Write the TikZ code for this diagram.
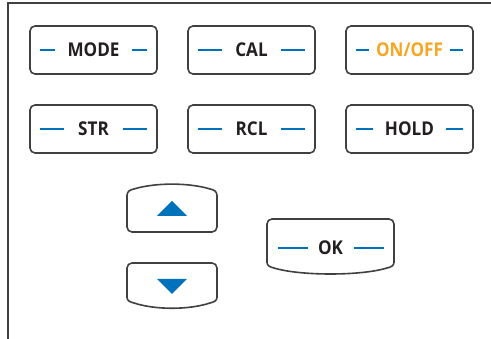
\documentclass[tikz,border=0pt]{standalone}
\usepackage{fontspec}
\setmainfont{Open Sans}
\newfontfamily\keyfont{Open Sans}[FakeStretch=0.9]
\definecolor{edge}{RGB}{64,64,64}
\definecolor{keyblue}{RGB}{0,114,188}
\definecolor{keyorange}{RGB}{246,166,35}
\definecolor{keytext}{RGB}{35,31,32}
\tikzset{
  btn/.style={draw=edge, line width=1.6pt, rounded corners=5pt, minimum width=127pt, minimum height=48pt, inner sep=0pt},
  lbl/.style={font=\keyfont\bfseries\fontsize{19}{21}\selectfont, inner sep=0pt},
  dsh/.style={draw=keyblue, line width=2pt},
  shp/.style={draw=edge, line width=1.6pt, rounded corners=5pt},
  bulge/.style={draw=edge, line width=1.6pt},
  frame/.style={draw=edge, line width=2pt}
}
% name, x, y, text, colour, dash inner end (distance from box edge)
\newcommand{\kbtn}[6]{%
  \node[btn] (#1) at (#2,#3) {};
  \node[lbl, text=#5, anchor=base] (#1T) at (#2,#3+7) {#4};
  \draw[dsh] ([xshift=10.5pt]#1.west) -- ([xshift=#6 pt]#1.west);
  \draw[dsh] ([xshift=-10.5pt]#1.east) -- ([xshift=-#6 pt]#1.east);
}
\begin{document}
\begin{tikzpicture}[x=1pt,y=-1pt]
\useasboundingbox (0,0) rectangle (491,339);
\draw[frame] (8,340) -- (8,3) -- (492,3);
% top rows
\kbtn{mode}{93.5}{50}{MODE}{keytext}{26}
\kbtn{cal}{251.5}{50}{CAL}{keytext}{35}
\kbtn{onoff}{409.5}{50}{ON/OFF}{keyorange}{23.5}
\kbtn{str}{93.5}{129}{STR}{keytext}{35}
\kbtn{rcl}{251.5}{129}{RCL}{keytext}{35}
\kbtn{hold}{409.5}{129}{HOLD}{keytext}{28}
% up button
\draw[shp] (127,195) -- (127,232) -- (217,232) -- (217,195);
\draw[bulge] (127,196) .. controls (127,191) and (130,190) .. (134,189)
  .. controls (155,182.5) and (189,182.5) .. (210,189)
  .. controls (214,190) and (217,191) .. (217,196);
% down button
\draw[shp] (127,298) -- (127,263) -- (217,263) -- (217,298);
\draw[bulge] (127,297) .. controls (127,301) and (130,302) .. (134,303)
  .. controls (155,310) and (189,310) .. (210,303)
  .. controls (214,302) and (217,301) .. (217,297);
% OK button
\draw[shp] (267,263) -- (267,219) -- (394,219) -- (394,263);
\draw[bulge] (267,262) .. controls (267,266) and (270,267) .. (274,268)
  .. controls (300,276) and (361,276) .. (387,268)
  .. controls (391,267) and (394,266) .. (394,262);
\coordinate (okL) at (267,248);
\coordinate (okR) at (394,248);
\node[lbl, text=keytext, anchor=base] (okT) at (330.5,255) {OK};
\draw[dsh] ([xshift=10.5pt]okL) -- ([xshift=41pt]okL);
\draw[dsh] ([xshift=-10.5pt]okR) -- ([xshift=-40pt]okR);
% triangles
\fill[keyblue] (157,216) -- (187,216) -- (172,201) -- cycle;
\fill[keyblue] (157,279) -- (187,279) -- (172,294) -- cycle;
\end{tikzpicture}
\end{document}
